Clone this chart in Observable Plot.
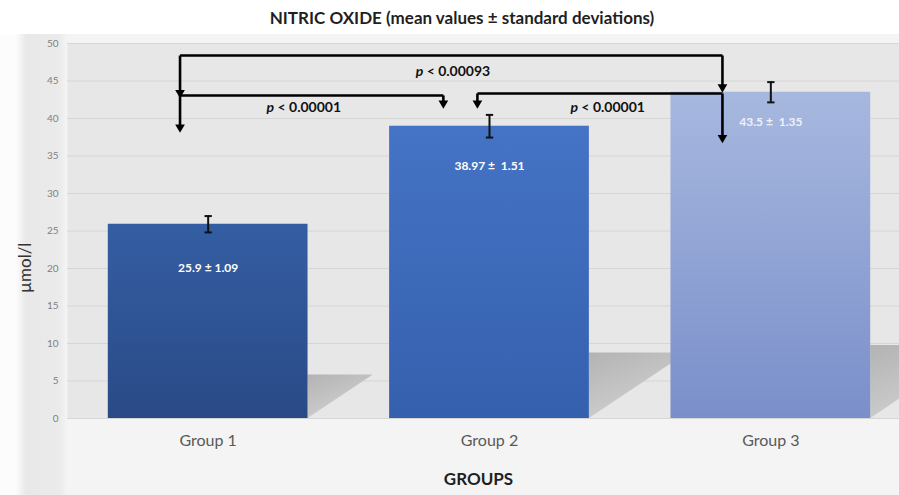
<!DOCTYPE html>
<html>
<head>
<meta charset="utf-8">
<script src="https://cdn.jsdelivr.net/npm/d3@7"></script>
<script src="https://cdn.jsdelivr.net/npm/@observablehq/plot@0.6"></script>
<style>
  html, body { margin: 0; padding: 0; background: #ffffff; }
  body { width: 899px; height: 495px; overflow: hidden; font-family: Lato, "Open Sans", sans-serif; }
  #title { height: 34px; line-height: 36px; text-align: center; padding-left: 25px; font-weight: 700; font-size: 17px; color: #1f1f1f; white-space: pre; }
  #chart { background: linear-gradient(to right, #fcfcfc 0px, #fcfcfc 16px, #e8e8e8 26px, #ebebeb 60px, #f4f4f4 67px); }
  #chart svg text { white-space: pre; }
</style>
</head>
<body>
<div id="title">NITRIC OXIDE (mean values ± standard deviations)</div>
<div id="chart"></div>
<script>
// ---- data ----
const groups = ["Group 1", "Group 2", "Group 3"];
const means = [25.9, 38.97, 43.5];
const sds = [1.09, 1.51, 1.35];
const valueLabels = ["25.9 ± 1.09", "38.97 ±  1.51", "43.5 ±  1.35"];
const valueLabelAt = [20.0, 33.7, 39.5];
const yTicks = [0, 5, 10, 15, 20, 25, 30, 35, 40, 45, 50];

// significance brackets (x in group units, y in µmol/l)
const pLabels = ["p < 0.00093", "p < 0.00001", "p < 0.00001"];
const pLabelX = [1.87, 1.34, 2.42];
const pLabelY = [46.3, 41.5, 41.5];
const bracketY = [48.4, 43.07, 43.33];
const bracketFrom = [0.90, 0.90, 1.957];
const bracketTo = [2.828, 1.836, 2.828];
const bracketFromTip = [42.7, 38.1, 41.3];
const bracketToTip = [43.45, 41.3, 36.7];

// ---- styles ----
const barColors = [["#345ea3", "#2a4a86"], ["#4573c5", "#3560ae"], ["#a7b8df", "#7a8fca"]];
const half = 0.355;
const capHalf = 0.013;

const data = groups.map((g, k) => ({i: k + 1, group: g, mean: means[k], sd: sds[k], label: valueLabels[k], labelAt: valueLabelAt[k]}));

const segments = [];
const tips = [];
bracketY.forEach((y, k) => {
  segments.push({x1: bracketFrom[k], y1: y, x2: bracketTo[k], y2: y});
  segments.push({x1: bracketFrom[k], y1: y, x2: bracketFrom[k], y2: bracketFromTip[k] + 0.4});
  segments.push({x1: bracketTo[k], y1: y, x2: bracketTo[k], y2: bracketToTip[k] + 0.4});
  tips.push({x: bracketFrom[k], y: bracketFromTip[k]}, {x: bracketTo[k], y: bracketToTip[k]});
});
const pData = pLabels.map((t, k) => ({text: t, x: pLabelX[k], y: pLabelY[k]}));

function backdrop(index, scales) {
  const {x, y} = scales;
  const g = d3.create("svg:g");
  const defs = g.append("defs");
  barColors.forEach(([top, bottom], k) => {
    const lg = defs.append("linearGradient").attr("id", "bar" + k)
      .attr("x1", 0).attr("y1", 0).attr("x2", 0).attr("y2", 1);
    lg.append("stop").attr("offset", "0%").attr("stop-color", top);
    lg.append("stop").attr("offset", "100%").attr("stop-color", bottom);
  });
  const sg = defs.append("linearGradient").attr("id", "shadow")
    .attr("x1", 0).attr("y1", 0).attr("x2", 0.6).attr("y2", 1);
  sg.append("stop").attr("offset", "0%").attr("stop-color", "#b3b3b3");
  sg.append("stop").attr("offset", "100%").attr("stop-color", "#d2d2d2");
  data.forEach(d => {
    const xr = x(d.i + half), y0 = y(0), yt = y(d.mean * 0.224);
    const w = (y0 - yt) * 1.5;
    g.append("path").attr("d", `M${xr},${yt}H${xr + w}L${xr},${y0}Z`).attr("fill", "url(#shadow)");
  });
  return g.node();
}

const marks = [
  Plot.frame({fill: "#e8e7e7", stroke: null}),
  Plot.gridY(yTicks, {stroke: "#d6d6d6", strokeOpacity: 1}),
  backdrop
];
data.forEach((d, k) => {
  marks.push(Plot.rectY([d], {x1: d => d.i - half, x2: d => d.i + half, y1: 0, y2: "mean", fill: `url(#bar${k})`}));
});
marks.push(
  Plot.ruleX(data, {x: "i", y1: d => d.mean - d.sd, y2: d => d.mean + d.sd, stroke: "#111", strokeWidth: 2}),
  Plot.link(data, {x1: d => d.i - capHalf, x2: d => d.i + capHalf, y1: d => d.mean + d.sd, y2: d => d.mean + d.sd, stroke: "#111", strokeWidth: 2}),
  Plot.link(data, {x1: d => d.i - capHalf, x2: d => d.i + capHalf, y1: d => d.mean - d.sd, y2: d => d.mean - d.sd, stroke: "#111", strokeWidth: 2}),
  Plot.axisY({ticks: yTicks, tickSize: 0, tickPadding: 9, fontSize: 10, fill: "#808080", label: null}),
  Plot.axisX({ticks: [1, 2, 3], tickFormat: i => groups[i - 1], tickSize: 0, tickPadding: 16, fontSize: 16, fill: "#595959", label: null}),
  Plot.text(data, {x: "i", y: "labelAt", text: "label", fill: (d) => d.i === 3 ? "#eef1fa" : "#ffffff", fontSize: 12, fontWeight: "bold"}),
  Plot.link(segments, {x1: "x1", y1: "y1", x2: "x2", y2: "y2", stroke: "#000", strokeWidth: 2.6}),
  Plot.dot(tips, {x: "x", y: "y", symbol: "triangle", rotate: 180, r: 3.6, fill: "#000", stroke: null, dy: -5.5}),
  Plot.text(pData, {x: "x", y: "y", text: "text", fontSize: 14, fontWeight: "bold", fill: "#111"}),
  Plot.text(["µmol/l"], {text: d => d, frameAnchor: "left", dx: -42, dy: 62, rotate: -90, fontSize: 17, fill: "#333"}),
  Plot.text(["GROUPS"], {text: d => d, frameAnchor: "bottom", dx: -5, dy: 66, fontSize: 17, fontWeight: "bold", fill: "#1f1f1f"})
);

const chart = Plot.plot({
  width: 899,
  height: 461,
  marginTop: 9,
  marginBottom: 77,
  marginLeft: 67,
  marginRight: 0,
  style: {fontFamily: "Lato, 'Open Sans', sans-serif", background: "transparent", overflow: "visible"},
  x: {type: "linear", domain: [0.5, 3.5], range: [67, 911]},
  y: {domain: [0, 50]},
  color: {type: "identity"},
  marks
});

// italic "p" in the significance labels
d3.select(chart).selectAll("text").each(function () {
  const t = this.textContent;
  if (t.startsWith("p <")) {
    const sel = d3.select(this);
    sel.text(null);
    sel.append("tspan").attr("font-style", "italic").text("p");
    sel.append("tspan").text(t.slice(1));
  }
});

document.getElementById("chart").appendChild(chart);
</script>
</body>
</html>
